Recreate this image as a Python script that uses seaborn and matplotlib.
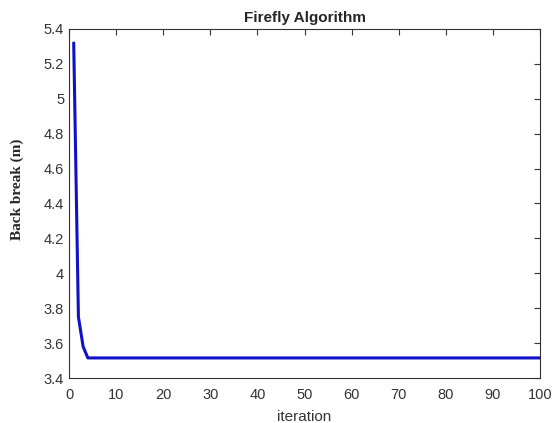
#!/usr/bin/env python3

import numpy as np
import pandas as pd
import matplotlib
matplotlib.use("Agg")
import matplotlib.pyplot as plt
import seaborn as sns

# convergence values
first_iters = [1, 2, 3, 4]
first_vals = [5.32, 3.75, 3.58, 3.515]
best_val = 3.515
n_iter = 100

iterations = list(range(1, n_iter + 1))
values = first_vals + [best_val] * (n_iter - len(first_vals))

xticks = [0, 10, 20, 30, 40, 50, 60, 70, 80, 90, 100]
yticks = [3.4, 3.6, 3.8, 4, 4.2, 4.4, 4.6, 4.8, 5, 5.2, 5.4]

if __name__ == '__main__':
    sns.set_style("white")
    plt.rcParams['font.family'] = ['Liberation Sans', 'DejaVu Sans']

    df = pd.DataFrame({"iteration": iterations, "value": values})

    fig = plt.figure(figsize=(5.52, 4.23), dpi=100)
    ax = fig.add_axes([69 / 552, 1 - 378 / 423, (540 - 69) / 552, (378 - 29) / 423])

    sns.lineplot(ax=ax, data=df, x="iteration", y="value", color="#1010c8", linewidth=2.2)

    ax.set_xlim(0, 100)
    ax.set_ylim(3.4, 5.4)
    ax.set_xticks(xticks)
    ax.set_yticks(yticks)
    ax.set_yticklabels([f"{t:g}" for t in yticks])

    ax.tick_params(direction="in", top=True, right=True, length=4, width=0.8,
                   labelsize=10.5, labelcolor="#333333", color="#333333")
    ax.tick_params(axis="x", pad=7)
    for s in ax.spines.values():
        s.set_color("#333333")
        s.set_linewidth(0.8)

    ax.set_title("Firefly Algorithm", fontweight="bold", fontsize=11, pad=5)
    ax.set_xlabel("iteration", fontsize=11, color="#333333", labelpad=6)
    ax.set_ylabel("Back break (m)", fontsize=11, fontweight="bold",
                  family=["Liberation Serif", "DejaVu Serif"])
    ax.yaxis.set_label_coords(-0.095, 0.54)

    fig.savefig("out.png", dpi=100)
